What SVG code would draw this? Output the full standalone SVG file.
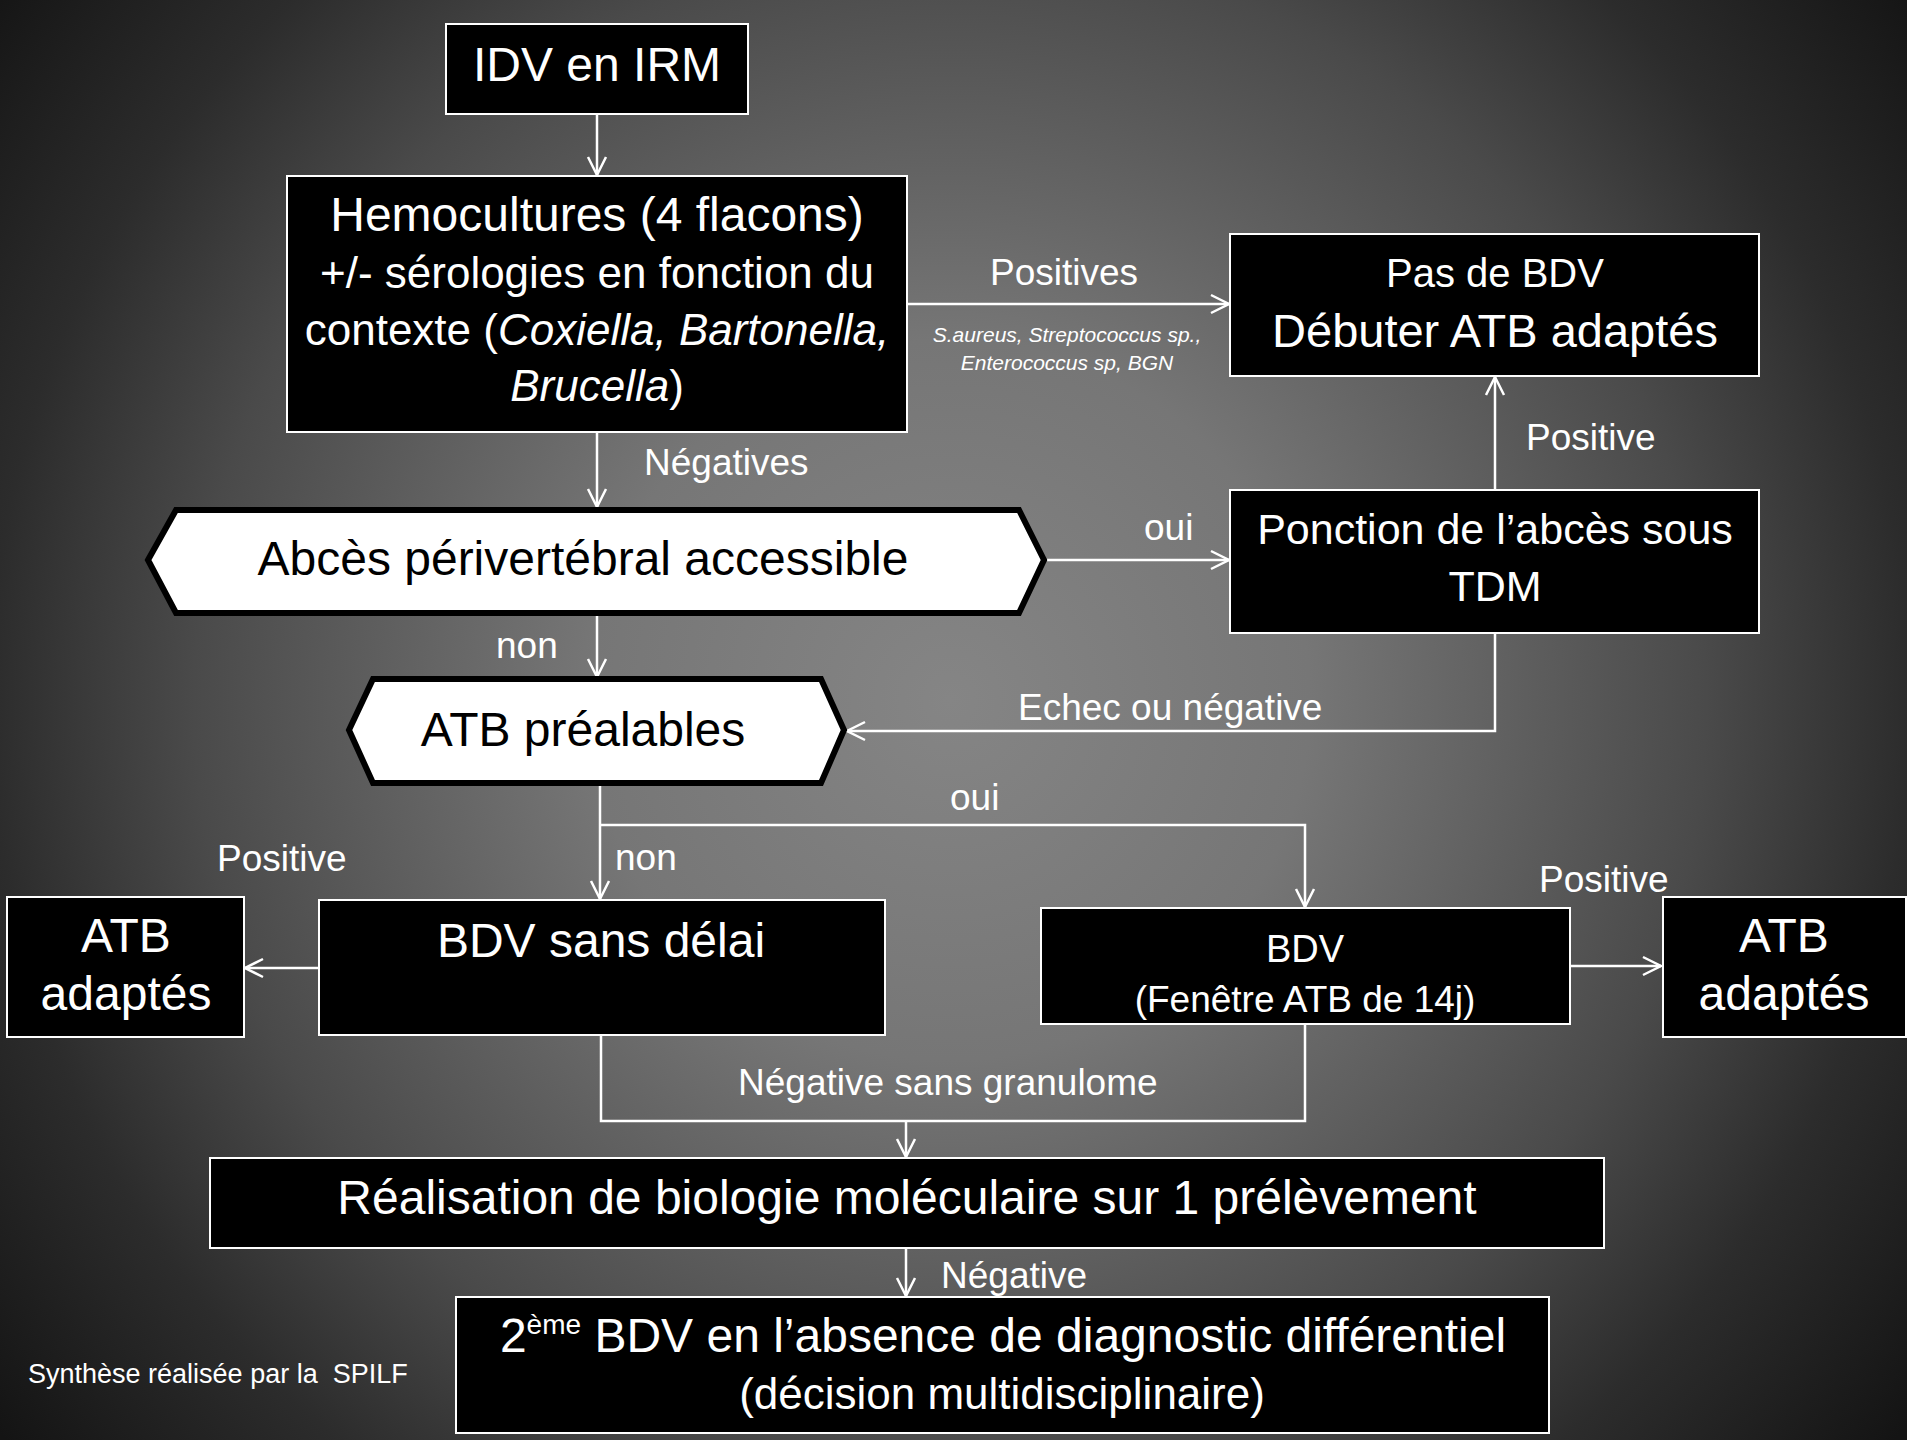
<svg xmlns="http://www.w3.org/2000/svg" width="1907" height="1440" viewBox="0 0 1907 1440">
<defs>
<radialGradient id="bg" gradientUnits="userSpaceOnUse" cx="950" cy="700" r="1200">
<stop offset="0" stop-color="#858585"/>
<stop offset="0.3" stop-color="#767676"/>
<stop offset="0.63" stop-color="#4a4a4a"/>
<stop offset="0.8" stop-color="#2c2c2c"/>
<stop offset="1" stop-color="#141414"/>
</radialGradient>
<marker id="arr" markerUnits="userSpaceOnUse" markerWidth="24" markerHeight="24" viewBox="-20 -12 24 24" refX="0" refY="0" orient="auto">
<path d="M-18,-9 L0,0 L-18,9" fill="none" stroke="#fff" stroke-width="2.5"/>
</marker>
<style>
.box{fill:#000;stroke:#fff;stroke-width:2}
.hex{fill:#fff;stroke:#000;stroke-width:6;stroke-linejoin:miter}
.t{font-family:"Liberation Sans",Arial,sans-serif;fill:#fff;text-anchor:middle}
.k{font-family:"Liberation Sans",Arial,sans-serif;fill:#000;text-anchor:middle}
.lbl{font-family:"Liberation Sans",Arial,sans-serif;fill:#fff;font-size:37px}
.c{fill:none;stroke:#fff;stroke-width:2.5}
</style>
</defs>
<rect width="1907" height="1440" fill="url(#bg)"/>

<g id="connectors">
<path class="c" d="M597,114 V175" marker-end="url(#arr)"/>
<path class="c" d="M907,304 H1229" marker-end="url(#arr)"/>
<path class="c" d="M597,432 V507" marker-end="url(#arr)"/>
<path class="c" d="M1047,560 H1229" marker-end="url(#arr)"/>
<path class="c" d="M1495,490 V377" marker-end="url(#arr)"/>
<path class="c" d="M597,616 V677" marker-end="url(#arr)"/>
<path class="c" d="M1495,633 V731 H847" marker-end="url(#arr)"/>
<path class="c" d="M600,785 V899" marker-end="url(#arr)"/>
<path class="c" d="M600,825 H1305 V907" marker-end="url(#arr)"/>
<path class="c" d="M318,968 H245" marker-end="url(#arr)"/>
<path class="c" d="M1570,966 H1661" marker-end="url(#arr)"/>
<path class="c" d="M601,1035 V1121 H1305 V1024"/>
<path class="c" d="M906,1121 V1157" marker-end="url(#arr)"/>
<path class="c" d="M906,1248 V1296" marker-end="url(#arr)"/>
</g>

<g id="labels">
<text class="lbl" x="990" y="285">Positives</text>
<text class="t" x="1067" y="342" font-size="21" font-style="italic">S.aureus, Streptococcus sp.,</text>
<text class="t" x="1067" y="370" font-size="21" font-style="italic">Enterococcus sp, BGN</text>
<text class="lbl" x="644" y="475">Négatives</text>
<text class="lbl" x="1144" y="540">oui</text>
<text class="lbl" x="1526" y="450">Positive</text>
<text class="lbl" x="496" y="658">non</text>
<text class="lbl" x="1018" y="720">Echec ou négative</text>
<text class="lbl" x="950" y="810">oui</text>
<text class="lbl" x="615" y="870">non</text>
<text class="lbl" x="217" y="871">Positive</text>
<text class="lbl" x="1539" y="892">Positive</text>
<text class="lbl" x="738" y="1095">Négative sans granulome</text>
<text class="lbl" x="941" y="1288">Négative</text>
<text x="28" y="1383" font-size="27" fill="#fff" font-family="Liberation Sans, Arial, sans-serif" xml:space="preserve">Synthèse réalisée par la  SPILF</text>
</g>

<g id="n-idv">
<rect class="box" x="446" y="24" width="302" height="90"/>
<text class="t" x="597" y="81" font-size="48">IDV en IRM</text>
</g>

<g id="n-hemo">
<rect class="box" x="287" y="176" width="620" height="256"/>
<text class="t" x="597" y="231" font-size="48">Hemocultures (4 flacons)</text>
<text class="t" x="597" y="288" font-size="44">+/- sérologies en fonction du</text>
<text class="t" x="597" y="345" font-size="44">contexte (<tspan font-style="italic">Coxiella, Bartonella,</tspan></text>
<text class="t" x="597" y="401" font-size="44"><tspan font-style="italic">Brucella</tspan>)</text>
</g>

<g id="n-pasbdv">
<rect class="box" x="1230" y="234" width="529" height="142"/>
<text class="t" x="1495" y="287" font-size="40">Pas de BDV</text>
<text class="t" x="1495" y="347" font-size="47">Débuter ATB adaptés</text>
</g>

<g id="n-abces">
<polygon class="hex" points="148,560 176,510 1019,510 1044,560 1019,613 176,613"/>
<text class="k" x="583" y="575" font-size="48">Abcès périvertébral accessible</text>
</g>

<g id="n-ponction">
<rect class="box" x="1230" y="490" width="529" height="143"/>
<text class="t" x="1495" y="544" font-size="43">Ponction de l’abcès sous</text>
<text class="t" x="1495" y="601" font-size="43">TDM</text>
</g>

<g id="n-atbprea">
<polygon class="hex" points="349,730 373,679 821,679 844,730 821,783 373,783"/>
<text class="k" x="583" y="746" font-size="48">ATB préalables</text>
</g>

<g id="n-bdvsans">
<rect class="box" x="319" y="900" width="566" height="135"/>
<text class="t" x="601" y="957" font-size="48">BDV sans délai</text>
</g>

<g id="n-atbleft">
<rect class="box" x="7" y="897" width="237" height="140"/>
<text class="t" x="126" y="952" font-size="48">ATB</text>
<text class="t" x="126" y="1010" font-size="48">adaptés</text>
</g>

<g id="n-bdv14">
<rect class="box" x="1041" y="908" width="529" height="116"/>
<text class="t" x="1305" y="962" font-size="38">BDV</text>
<text class="t" x="1305" y="1012" font-size="37">(Fenêtre ATB de 14j)</text>
</g>

<g id="n-atbright">
<rect class="box" x="1663" y="897" width="243" height="140"/>
<text class="t" x="1784" y="952" font-size="48">ATB</text>
<text class="t" x="1784" y="1010" font-size="48">adaptés</text>
</g>

<g id="n-realisation">
<rect class="box" x="210" y="1158" width="1394" height="90"/>
<text class="t" x="907" y="1214" font-size="48">Réalisation de biologie moléculaire sur 1 prélèvement</text>
</g>

<g id="n-2bdv">
<rect class="box" x="456" y="1297" width="1093" height="136"/>
<text class="t" x="1003" y="1352" font-size="48">2<tspan font-size="28" dy="-18">ème</tspan><tspan dy="18"> BDV en l’absence de diagnostic différentiel</tspan></text>
<text class="t" x="1002" y="1409" font-size="44">(décision multidisciplinaire)</text>
</g>
</svg>
